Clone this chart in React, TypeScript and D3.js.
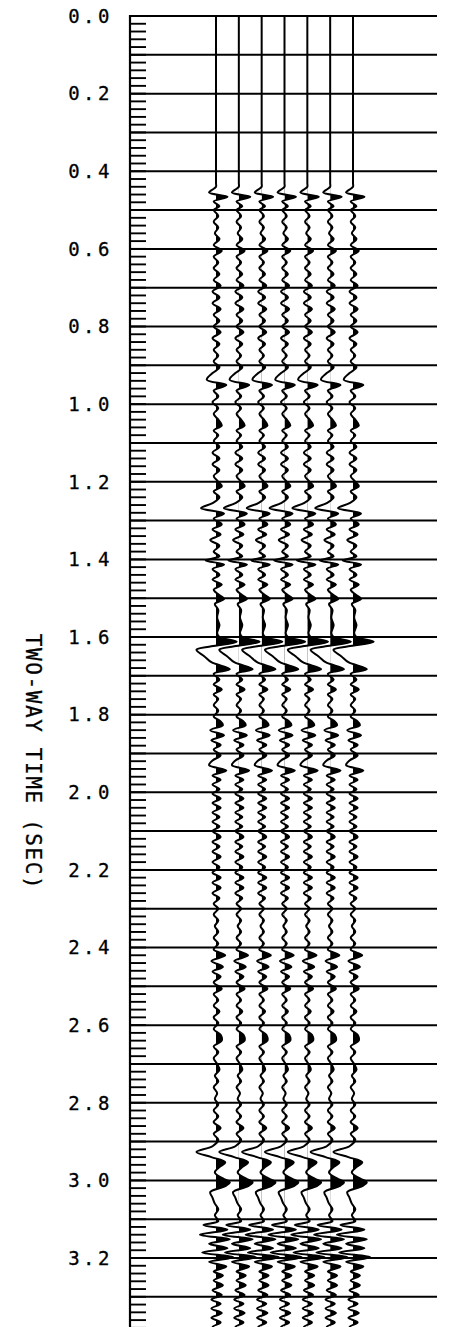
import React from 'react';
import * as d3 from 'd3';

// ---- data ----
const traceIds = [1, 2, 3, 4, 5, 6, 7];
const tickLabels = ['0.0','0.2','0.4','0.6','0.8','1.0','1.2','1.4','1.6','1.8','2.0','2.2','2.4','2.6','2.8','3.0','3.2'];
const tickValues = [0,0.2,0.4,0.6,0.8,1.0,1.2,1.4,1.6,1.8,2.0,2.2,2.4,2.6,2.8,3.0,3.2];
const gridTimes = [0,0.1,0.2,0.3,0.4,0.5,0.6,0.7,0.8,0.9,1.0,1.1,1.2,1.3,1.4,1.5,1.6,1.7,1.8,1.9,2.0,2.1,2.2,2.3,2.4,2.5,2.6,2.7,2.8,2.9,3.0,3.1,3.2,3.3];
const axisTitle = 'TWO-WAY TIME (SEC)';

// trace keypoints: [time (s), amplitude]
const traceSamples: [number, number][] = [
  [0, 0], [0.1, 0], [0.2, 0], [0.3, 0], [0.4, 0], [0.43, 0], [0.44, 0],
  [0.445, -2], [0.455, -6], [0.466, 10], [0.478, -2], [0.49, 3], [0.50, -2], [0.515, 2], [0.53, -2], [0.545, 2], [0.56, -1], [0.575, 3], [0.59, -2],
  [0.605, 5], [0.62, -2], [0.635, 2], [0.65, -2], [0.665, 3], [0.68, -2], [0.695, 4], [0.71, -3], [0.725, 3], [0.74, -3], [0.755, 4], [0.77, -2],
  [0.785, 3], [0.80, -2], [0.815, 4], [0.83, -3], [0.845, 3], [0.86, -2], [0.875, 2], [0.89, -2], [0.905, 3], [0.92, -3], [0.937, -8], [0.951, 9],
  [0.965, -2], [0.98, 2], [0.995, -3],
  [1.01, 2], [1.025, -2], [1.04, 2], [1.055, 5], [1.068, -2], [1.08, 2], [1.095, -2],
  [1.11, 3], [1.125, -3], [1.14, 3], [1.155, -3], [1.17, 3], [1.185, -2], [1.20, 2],
  [1.212, 5], [1.225, -2], [1.24, 3], [1.255, -3], [1.268, -13], [1.282, 7], [1.295, -2],
  [1.31, 5], [1.323, -3], [1.336, 4], [1.35, -5], [1.365, 3], [1.38, -2], [1.392, 3],
  [1.403, -9], [1.413, 7], [1.425, -3], [1.44, 3], [1.452, -3], [1.465, 5], [1.478, -2], [1.49, 2],
  [1.502, 7], [1.515, -1], [1.53, 2], [1.55, 1], [1.57, 3], [1.59, 1], [1.60, 3],
  [1.612, 18], [1.624, -4], [1.633, -17], [1.65, -10], [1.665, -4], [1.683, 12], [1.695, -2],
  [1.71, 3], [1.722, -2], [1.735, 5], [1.748, -2], [1.76, 2], [1.775, -2], [1.79, 2],
  [1.805, -2], [1.815, 3], [1.827, 6], [1.84, -5], [1.853, 7], [1.866, -4], [1.878, 4], [1.89, -2],
  [1.905, 4], [1.918, -3], [1.93, -6], [1.944, 9], [1.957, -3], [1.968, 4], [1.98, -3], [1.992, 3],
  [2.004, -3], [2.016, 4], [2.028, -3], [2.04, 4], [2.052, -3], [2.064, 3], [2.076, -3], [2.088, 3],
  [2.10, -3], [2.115, 4], [2.128, -3], [2.14, 3], [2.153, -3], [2.166, 4], [2.18, -3], [2.193, 3],
  [2.207, -3], [2.22, 4], [2.233, -3], [2.246, 4], [2.26, -3], [2.273, 3], [2.287, -2],
  [2.30, 2], [2.315, -2], [2.33, 2], [2.345, -1], [2.36, 2], [2.375, -2], [2.39, 2], [2.405, -2],
  [2.42, 8], [2.435, -4], [2.45, 6], [2.462, -3], [2.475, 4], [2.49, -2],
  [2.506, 5], [2.52, -2], [2.535, 2], [2.55, -2], [2.565, 3], [2.58, -2], [2.595, 2],
  [2.61, -2], [2.625, 4], [2.64, 5], [2.655, -2], [2.67, 2], [2.685, -2], [2.70, 1],
  [2.715, 3], [2.73, -1], [2.745, 2], [2.76, -2], [2.775, 1], [2.79, -1],
  [2.805, 2], [2.82, -2], [2.835, 2], [2.85, -2], [2.865, 4], [2.88, -2], [2.895, 2],
  [2.912, -3], [2.927, -17], [2.94, -4], [2.953, 8], [2.968, 2], [2.98, -1], [2.995, 6],
  [3.005, 12], [3.015, 8], [3.03, -5], [3.045, -3], [3.06, -1], [3.075, 2], [3.09, -1],
  [3.105, 2], [3.115, -11], [3.127, 10], [3.14, -14], [3.152, 12], [3.163, -6], [3.175, 10], [3.186, -12], [3.198, 15],
  [3.21, -6], [3.222, 9], [3.235, -2], [3.245, 6], [3.258, -2], [3.27, 6], [3.283, -3], [3.295, 5],
  [3.307, -4], [3.318, 4], [3.33, -4], [3.342, 5], [3.354, -4], [3.366, 4], [3.378, -3], [3.39, 2],
];

// ---- layout ----
const W = 452;
const H = 1327;
const axisX = 130;
const gridRight = 437;
const tickLen = 16;

const yScale = d3.scaleLinear().domain([0, 3.2]).range([16, 1258]);
const xScale = d3.scaleLinear().domain([1, 7]).range([216, 353]);
const ampScale = d3.scaleLinear().domain([-20, 20]).range([-23, 23]);

const minorTicks = d3.range(0, 3.39, 0.02);

export default function App() {
  const curve = d3.curveCatmullRom.alpha(0.5);
  return (
    <svg width={W} height={H} viewBox={`0 0 ${W} ${H}`}
      style={{ position: 'absolute', left: 0, top: 0, background: '#fff' }}>
      <rect x={0} y={0} width={W} height={H} fill="#fff" />
      <defs>
        {traceIds.map((id) => (
          <clipPath key={id} id={`clip-${id}`}>
            <rect x={xScale(id)} y={0} width={60} height={H} />
          </clipPath>
        ))}
      </defs>
      {/* grid lines */}
      {gridTimes.map((t) => (
        <line key={t} x1={axisX} x2={gridRight} y1={yScale(t)} y2={yScale(t)}
          stroke="#000" strokeWidth={2} />
      ))}
      {/* axis */}
      <line x1={axisX} x2={axisX} y1={yScale(0) - 1} y2={H} stroke="#000" strokeWidth={2.2} />
      {minorTicks.map((t, i) => (
        <line key={i} x1={axisX} x2={axisX + tickLen} y1={yScale(t)} y2={yScale(t)}
          stroke="#000" strokeWidth={1.9} />
      ))}
      {/* tick labels */}
      {tickValues.map((v, i) => (
        <text key={v} x={113} y={yScale(v)} dy="0.36em" textAnchor="end"
          fontFamily="DejaVu Sans Mono, monospace" fontSize={19} letterSpacing={3.5}
          stroke="#000" strokeWidth={0.3}
          fill="#000">{tickLabels[i]}</text>
      ))}
      {/* axis title */}
      <text transform={`translate(26, 762) rotate(90)`} textAnchor="middle"
        fontFamily="DejaVu Sans Mono, monospace" fontSize={21} letterSpacing={1.6}
        stroke="#000" strokeWidth={0.3}
        fill="#000">{axisTitle}</text>
      {/* traces */}
      {traceIds.map((id) => {
        const x0 = xScale(id);
        const area = d3.area<[number, number]>()
          .x0(x0)
          .x1((d) => x0 + ampScale(d[1]))
          .y((d) => yScale(d[0]))
          .curve(curve);
        const line = d3.line<[number, number]>()
          .x((d) => x0 + ampScale(d[1]))
          .y((d) => yScale(d[0]))
          .curve(curve);
        return (
          <g key={id}>
            <path d={area(traceSamples) || ''} fill="#000" clipPath={`url(#clip-${id})`} />
            <path d={line(traceSamples) || ''} fill="none" stroke="#000" strokeWidth={2} />
          </g>
        );
      })}
    </svg>
  );
}
